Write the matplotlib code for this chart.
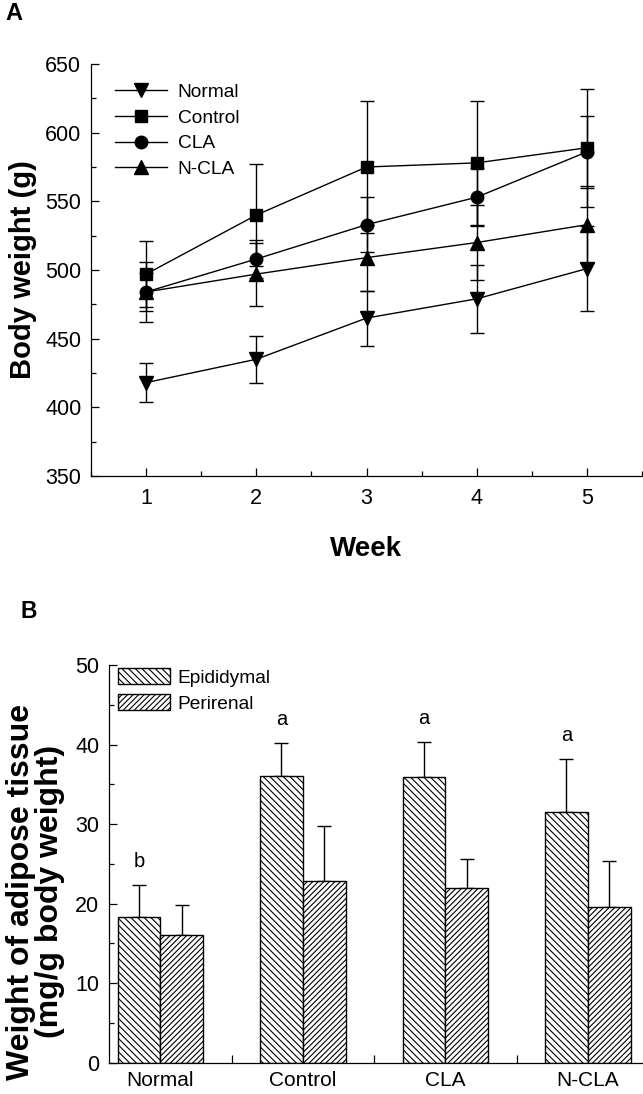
import numpy as np
import matplotlib
matplotlib.use("Agg")
import matplotlib.pyplot as plt
from matplotlib.ticker import MultipleLocator, FixedLocator

plt.rcParams['font.family'] = ['Liberation Sans', 'DejaVu Sans']
plt.rcParams['hatch.linewidth'] = 0.8

# panel A: body weight by week
weeks = [1, 2, 3, 4, 5]
normal = [418, 435, 465, 479, 501]
normal_sd = [14, 17, 20, 25, 31]
control = [497, 540, 575, 578, 589]
control_sd = [24, 37, 48, 45, 43]
cla = [484, 508, 533, 553, 586]
cla_sd = [22, 14, 20, 21, 26]
ncla = [484, 497, 509, 520, 533]
ncla_sd = [14, 23, 24, 27, 28]

# panel B: adipose tissue weight
groups = ["Normal", "Control", "CLA", "N-CLA"]
epididymal = [18.3, 36.1, 35.9, 31.5]
epididymal_err = [4.0, 4.1, 4.4, 6.7]
perirenal = [16.0, 22.9, 22.0, 19.6]
perirenal_err = [3.8, 6.9, 3.6, 5.8]
letters = ["b", "a", "a", "a"]

fig = plt.figure(figsize=(6.43, 10.94), dpi=100)

tick_fs = 15.5
leg_fs = 13.8

# ---- panel A ----
ax1 = fig.add_axes([91 / 643, 1 - 476 / 1094, 551 / 643, (476 - 64) / 1094])
series = [
    ("Normal", normal, normal_sd, "v", 10),
    ("Control", control, control_sd, "s", 8),
    ("CLA", cla, cla_sd, "o", 9),
    ("N-CLA", ncla, ncla_sd, "^", 10),
]
handles = []
for name, vals, sd, mk, ms in series:
    ax1.errorbar(weeks, vals, yerr=sd, fmt="none", ecolor="black",
                 elinewidth=1.0, capsize=4.7, capthick=1.0, zorder=2)
    h, = ax1.plot(weeks, vals, color="black", lw=1.0, marker=mk,
                  markersize=ms, label=name, zorder=3)
    handles.append(h)

ax1.set_xlim(0.5, 5.5)
ax1.set_ylim(350, 650)
ax1.xaxis.set_major_locator(MultipleLocator(1))
ax1.xaxis.set_minor_locator(MultipleLocator(0.5))
ax1.yaxis.set_major_locator(MultipleLocator(50))
ax1.yaxis.set_minor_locator(MultipleLocator(25))
ax1.set_xlabel("Week", fontsize=20, fontweight="bold", labelpad=19)
ax1.set_ylabel("Body weight (g)", fontsize=21, fontweight="bold", labelpad=6)
ax1.legend(handles=handles, loc="upper left", frameon=False, fontsize=leg_fs,
           handlelength=2.7, handletextpad=0.55, labelspacing=0.43,
           borderaxespad=0.3, bbox_to_anchor=(0.02, 0.985), numpoints=1)

# ---- panel B ----
ax2 = fig.add_axes([109 / 643, 1 - 1062.7 / 1094, 533 / 643, (1062.7 - 665) / 1094])
x = np.arange(len(groups))
w = 0.3
b1 = ax2.bar(x - w / 2, epididymal, w, color="white", edgecolor="black",
             linewidth=1.0, hatch="\\\\\\\\\\", label="Epididymal", zorder=2)
b2 = ax2.bar(x + w / 2, perirenal, w, color="white", edgecolor="black",
             linewidth=1.0, hatch="//////", label="Perirenal", zorder=2)
ax2.errorbar(x - w / 2, epididymal, yerr=[np.zeros(4), epididymal_err],
             fmt="none", ecolor="black", elinewidth=1.0, capsize=4.7, zorder=1)
ax2.errorbar(x + w / 2, perirenal, yerr=[np.zeros(4), perirenal_err],
             fmt="none", ecolor="black", elinewidth=1.0, capsize=4.7, zorder=1)
for xi, v, e, t in zip(x, epididymal, epididymal_err, letters):
    ax2.annotate(t, (xi - w / 2, v + e), xytext=(0, 13), textcoords="offset points",
                 ha="center", va="baseline", fontsize=14.5)

ax2.set_xlim(-0.36, 3.38)
ax2.set_ylim(0, 50)
ax2.xaxis.set_major_locator(FixedLocator(x))
ax2.set_xticklabels(groups)
ax2.xaxis.set_minor_locator(FixedLocator([0.5, 1.5, 2.5]))
ax2.yaxis.set_major_locator(MultipleLocator(10))
ax2.yaxis.set_minor_locator(MultipleLocator(5))
ax2.set_ylabel("Weight of adipose tissue\n(mg/g body weight)", fontsize=23,
               fontweight="bold", linespacing=0.95)
ax2.yaxis.set_label_coords(-0.082, 0.43)
ax2.legend(handles=[b1, b2], loc="upper left", frameon=False, fontsize=leg_fs,
           handlelength=2.7, handleheight=0.95, handletextpad=0.4,
           labelspacing=0.36, borderaxespad=0.0, bbox_to_anchor=(0.003, 1.012))

for ax in (ax1, ax2):
    for s in ("top", "right"):
        ax.spines[s].set_visible(False)
    for s in ("left", "bottom"):
        ax.spines[s].set_linewidth(0.9)
    ax.tick_params(which="major", direction="in", length=5.8, width=0.9,
                   labelsize=tick_fs, pad=7)
    ax.tick_params(which="minor", direction="in", length=3.5, width=0.9)
ax1.tick_params(axis="x", pad=9)
ax2.tick_params(axis="x", which="major", length=0, pad=6, labelsize=15)
ax2.tick_params(axis="x", which="minor", length=5.8)

fig.text(5 / 643, 1 - 2 / 1094, "A", fontsize=17, fontweight="bold", va="top", ha="left")
fig.text(20 / 643, 1 - 600 / 1094, "B", fontsize=16.5, fontweight="bold", va="top", ha="left")

fig.savefig("out.png", dpi=100)
